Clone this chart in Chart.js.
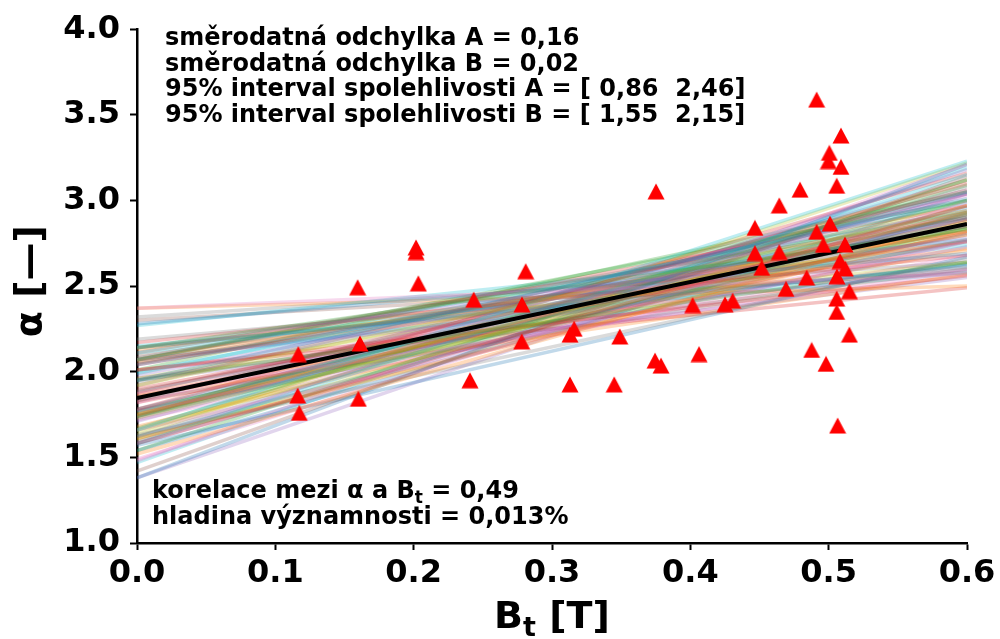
<!DOCTYPE html>
<html lang="cs">
<head>
<meta charset="UTF-8">
<title>alfa vs Bt</title>
<script src="https://cdn.jsdelivr.net/npm/chart.js"></script>
<style>
  html, body { margin: 0; padding: 0; background: #fff; }
</style>
</head>
<body>
<canvas id="chart" width="1000" height="639"></canvas>
<script>
// measured points
const bt = [0.1166, 0.1162, 0.1173, 0.1595, 0.1612, 0.1600, 0.2017, 0.2017, 0.2034, 0.2407,
            0.2434, 0.2810, 0.2783, 0.2781, 0.3130, 0.3160, 0.3130, 0.3450, 0.3490, 0.3752,
            0.3745, 0.3788, 0.4017, 0.4063, 0.4251, 0.4306, 0.4467, 0.4467, 0.4516, 0.4643,
            0.4643, 0.4692, 0.4793, 0.4841, 0.4877, 0.4913, 0.4913, 0.4961, 0.4981, 0.5005,
            0.4998, 0.5010, 0.5058, 0.5058, 0.5058, 0.5065, 0.5089, 0.5089, 0.5082, 0.5060,
            0.5118, 0.5120, 0.5150, 0.5150];
const alpha = [2.103, 1.861, 1.760, 2.493, 2.165, 1.842, 2.726, 2.699, 2.516, 1.950,
               2.421, 2.587, 2.393, 2.177, 2.217, 2.251, 1.926, 1.926, 2.206, 3.053,
               2.065, 2.036, 2.389, 2.103, 2.394, 2.415, 2.840, 2.693, 2.607, 2.971,
               2.699, 2.484, 3.063, 2.550, 2.127, 3.589, 2.817, 2.741, 2.046, 3.278,
               3.230, 2.865, 3.086, 2.427, 2.349, 1.686, 3.379, 3.196, 2.646, 2.557,
               2.743, 2.603, 2.470, 2.217];

// regression line
const fitX = [0, 0.6];
const fitY = [1.846, 2.863];

// bootstrap lines: alpha at Bt = 0 and at Bt = 0.6
const bootX = [0, 0.6];
const bootStart = [1.95, 1.52, 2.14, 1.58, 2.14, 1.42, 2.37, 1.63, 1.92, 1.66,
                   2.14, 1.75, 1.95, 1.90, 1.71, 2.11, 1.49, 2.19, 1.73, 1.58,
                   2.28, 1.61, 2.07, 2.01, 1.59, 2.05, 1.66, 2.08, 1.66, 2.27,
                   1.38, 2.37, 1.74, 1.78, 2.07, 1.83, 1.87, 1.62, 2.14, 1.99,
                   1.57, 2.07, 1.54, 2.17, 1.77, 1.88, 1.82, 1.89, 1.60, 2.11,
                   2.04, 1.68, 1.67, 2.01, 1.98, 1.75, 1.48, 2.32, 1.75, 2.00,
                   1.62, 2.06, 1.76, 2.04, 1.58, 2.09, 1.88, 1.78, 1.65, 2.07,
                   1.74, 1.86, 2.01, 1.82, 1.73, 1.96, 1.84, 1.83, 1.63, 2.15,
                   1.78, 1.87, 1.77, 2.07, 1.38, 2.30, 1.72, 1.94, 1.61, 2.07,
                   1.54, 2.13, 1.85, 1.74, 1.95, 1.92, 1.77, 1.74, 1.96, 1.47];
const bootEnd = [3.01, 2.88, 2.83, 2.97, 2.78, 3.14, 2.57, 2.66, 2.94, 3.23,
                 2.62, 2.93, 2.64, 2.80, 3.04, 2.90, 2.99, 2.61, 2.87, 3.15,
                 2.69, 2.82, 3.00, 2.56, 3.18, 2.85, 2.76, 2.94, 2.97, 2.77,
                 3.21, 2.50, 2.84, 3.10, 2.60, 3.06, 2.59, 3.08, 2.64, 2.99,
                 2.67, 2.82, 3.12, 2.68, 2.73, 2.91, 3.03, 2.76, 3.00, 2.74,
                 2.85, 2.85, 3.09, 2.49, 2.89, 2.89, 3.21, 2.64, 2.92, 2.90,
                 2.92, 2.72, 3.00, 2.82, 2.94, 2.76, 2.89, 2.81, 3.12, 2.63,
                 3.05, 2.57, 3.05, 2.77, 3.12, 2.60, 3.06, 2.63, 3.22, 2.58,
                 2.96, 2.71, 2.89, 2.97, 3.04, 2.58, 2.76, 2.93, 2.84, 2.93,
                 2.93, 2.76, 2.86, 3.16, 2.55, 3.04, 2.68, 2.92, 2.80, 3.19];

const xTicks = [0.0, 0.1, 0.2, 0.3, 0.4, 0.5, 0.6];
const yTicks = [1.0, 1.5, 2.0, 2.5, 3.0, 3.5, 4.0];

const statsTop = [
  'směrodatná odchylka A = 0,16',
  'směrodatná odchylka B = 0,02',
  '95% interval spolehlivosti A = [ 0,86  2,46]',
  '95% interval spolehlivosti B = [ 1,55  2,15]'
];
const corrText = [['korelace mezi α a B', false], ['t', true], [' = 0,49', false]];
const signifText = [['hladina významnosti = 0,013%', false]];
const xTitle = [['B', false], ['t', true], [' [T]', false]];
const yTitle = [['α [—]', false]];

const palette = ['31,119,180', '255,127,14', '44,160,44', '214,39,40', '148,103,189',
                 '140,86,75', '227,119,194', '127,127,127', '188,189,34', '23,190,207'];

// triangle marker centred on its box (like matplotlib '^')
const tri = document.createElement('canvas');
tri.width = 18; tri.height = 17;
(function () {
  const c = tri.getContext('2d');
  c.fillStyle = '#ff0000';
  c.beginPath();
  c.moveTo(9, 0.5);
  c.lineTo(17.5, 16.5);
  c.lineTo(0.5, 16.5);
  c.closePath();
  c.fill();
})();

const FONT = '"DejaVu Sans", sans-serif';

function drawRich(ctx, parts, x, y, size) {
  let cx = x;
  parts.forEach(([txt, sub]) => {
    ctx.font = 'bold ' + (sub ? Math.round(size * 0.7) : size) + 'px ' + FONT;
    ctx.fillText(txt, cx, sub ? y + size * 0.22 : y);
    cx += ctx.measureText(txt).width;
  });
}
function richWidth(ctx, parts, size) {
  let w = 0;
  parts.forEach(([txt, sub]) => {
    ctx.font = 'bold ' + (sub ? Math.round(size * 0.7) : size) + 'px ' + FONT;
    w += ctx.measureText(txt).width;
  });
  return w;
}

const textPlugin = {
  id: 'texts',
  afterDraw(chart) {
    const ctx = chart.ctx;
    const a = chart.chartArea;
    ctx.save();
    ctx.fillStyle = '#000';
    ctx.textBaseline = 'alphabetic';
    ctx.textAlign = 'left';

    // top stats
    ctx.font = 'bold 24px ' + FONT;
    statsTop.forEach((t, i) => {
      ctx.fillText(t, 165, 45 + i * 25.7);
    });

    // bottom stats
    drawRich(ctx, corrText, 152, 498, 24);
    drawRich(ctx, signifText, 152, 524, 24);

    // x axis title
    const ts = 38;
    const xw = richWidth(ctx, xTitle, ts);
    drawRich(ctx, xTitle, (a.left + a.right) / 2 - xw / 2, 628, ts);

    // y axis title
    const yw = richWidth(ctx, yTitle, ts);
    ctx.save();
    ctx.translate(41, (a.top + a.bottom) / 2 - 5);
    ctx.rotate(-Math.PI / 2);
    drawRich(ctx, yTitle, -yw / 2, 0, ts);
    ctx.restore();

    ctx.restore();
  }
};

const datasets = [];
datasets.push({
  type: 'scatter',
  data: bt.map((v, i) => ({ x: v, y: alpha[i] })),
  pointStyle: tri,
  pointRadius: 9,
  backgroundColor: '#ff0000',
  order: 0
});
datasets.push({
  type: 'line',
  data: fitX.map((v, i) => ({ x: v, y: fitY[i] })),
  borderColor: '#000',
  borderWidth: 4,
  pointRadius: 0,
  order: 1
});
bootStart.forEach((s, i) => {
  datasets.push({
    type: 'line',
    data: [{ x: bootX[0], y: s }, { x: bootX[1], y: bootEnd[i] }],
    borderColor: 'rgba(' + palette[i % palette.length] + ',0.28)',
    borderWidth: 3.5,
    pointRadius: 0,
    order: 2
  });
});

const tickFont = { family: FONT, size: 32, weight: 'bold' };

new Chart(document.getElementById('chart').getContext('2d'), {
  data: { datasets: datasets },
  options: {
    responsive: false,
    animation: false,
    devicePixelRatio: 1,
    layout: { padding: { top: 18, right: 33, left: 0, bottom: 0 } },
    plugins: { legend: { display: false }, tooltip: { enabled: false } },
    scales: {
      x: {
        type: 'linear',
        min: 0, max: 0.6,
        afterBuildTicks: s => { s.ticks = xTicks.map(v => ({ value: v })); },
        afterFit: s => { s.height = 96; },
        ticks: {
          color: '#000', font: tickFont, padding: 4, maxRotation: 0,
          callback: v => v.toFixed(1)
        },
        grid: { drawOnChartArea: false, tickLength: 7, tickWidth: 2, tickColor: '#000' },
        border: { color: '#000', width: 2.5 }
      },
      y: {
        type: 'linear',
        min: 1, max: 4,
        afterBuildTicks: s => { s.ticks = yTicks.map(v => ({ value: v })); },
        afterFit: s => { s.width = 137; },
        ticks: {
          color: '#000', font: tickFont, padding: 10,
          callback: v => v.toFixed(1)
        },
        grid: { drawOnChartArea: false, tickLength: 7, tickWidth: 2, tickColor: '#000' },
        border: { color: '#000', width: 2.5 }
      }
    }
  },
  plugins: [textPlugin]
});
</script>
</body>
</html>
